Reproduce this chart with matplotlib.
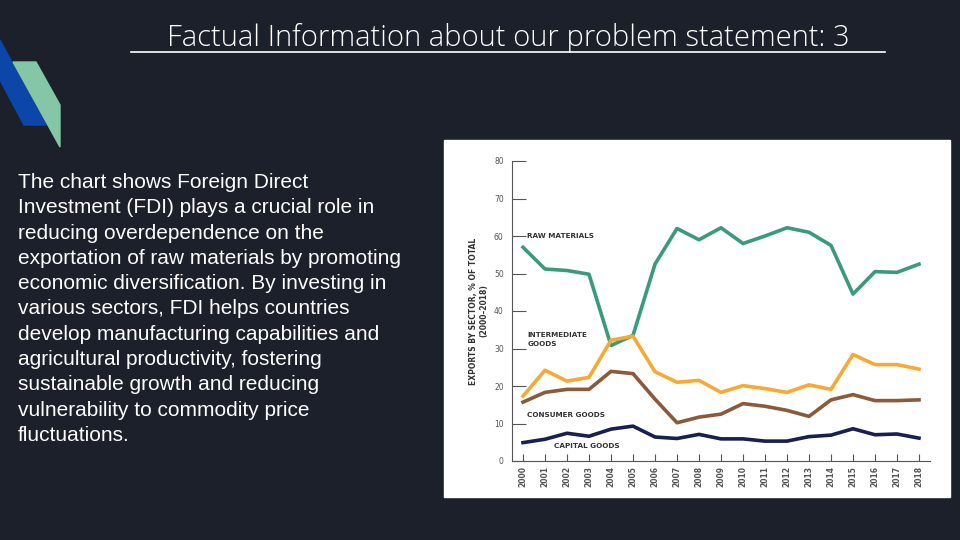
import matplotlib
matplotlib.use("Agg")
import matplotlib.pyplot as plt
from matplotlib.patches import Polygon, Rectangle
from matplotlib.lines import Line2D

years = list(range(2000, 2019))
raw = [57, 51.2, 50.8, 49.8, 30.8, 33.5, 52.5, 62, 59, 62.2, 58, 60, 62.2, 61, 57.5, 44.5, 50.5, 50.3, 52.5]
inter = [17.3, 24.2, 21.3, 22.3, 32.2, 33.3, 23.8, 21, 21.5, 18.3, 20.1, 19.3, 18.3, 20.3, 19.1, 28.4, 25.7, 25.7, 24.5]
consumer = [15.7, 18.3, 19.1, 19.1, 23.9, 23.3, 16.5, 10.2, 11.7, 12.5, 15.3, 14.6, 13.5, 11.9, 16.3, 17.7, 16.1, 16.1, 16.3]
capital = [4.9, 5.8, 7.4, 6.6, 8.5, 9.3, 6.4, 6.0, 7.1, 5.9, 5.9, 5.3, 5.3, 6.5, 6.9, 8.6, 7.0, 7.2, 6.1]

W, H = 960, 540
fig = plt.figure(figsize=(9.6, 5.4), dpi=100, facecolor="#1b202b")
bg = fig.add_axes([0, 0, 1, 1])
bg.set_xlim(0, W); bg.set_ylim(H, 0); bg.axis("off")
bg.add_patch(Polygon([(0, 40), (46, 125), (24, 125), (0, 80)], closed=True, color="#0b46a8"))
bg.add_patch(Polygon([(13, 62), (36, 62), (60, 105), (60, 147)], closed=True, color="#84c6a6"))
bg.add_patch(Rectangle((444, 140), 506, 357, color="white"))
bg.text(508, 38, "Factual Information about our problem statement: 3", color="white",
        fontsize=21, ha="center", va="center", family="Open Sans", fontweight="light")
bg.add_line(Line2D([131, 885], [52, 52], color="white", lw=1.2))
body = ("The chart shows Foreign Direct\nInvestment (FDI) plays a crucial role in\n"
        "reducing overdependence on the\nexportation of raw materials by promoting\n"
        "economic diversification. By investing in\nvarious sectors, FDI helps countries\n"
        "develop manufacturing capabilities and\nagricultural productivity, fostering\n"
        "sustainable growth and reducing\nvulnerability to commodity price\nfluctuations.")
bg.text(18, 173, body, color="white", fontsize=15, family="Liberation Sans",
        va="top", ha="left", linespacing=1.42)

ax = fig.add_axes([512/W, (H-461)/H, 418/W, 300/H])
ax.set_facecolor("white")
x = list(range(len(years)))
ax.plot(x, raw, color="#3a9b7a", lw=2.6)
ax.plot(x, inter, color="#f7a935", lw=2.6)
ax.plot(x, consumer, color="#8a5a3a", lw=2.6)
ax.plot(x, capital, color="#17204f", lw=2.6)
ax.set_xlim(-0.5, 18.5); ax.set_ylim(0, 80)
for s in ["top", "right"]:
    ax.spines[s].set_visible(False)
for s in ["left", "bottom"]:
    ax.spines[s].set_color("#555555"); ax.spines[s].set_linewidth(0.8)
ax.set_yticks(range(0, 81, 10))
ax.tick_params(axis="y", direction="in", length=10, labelsize=5.5, colors="#555555", pad=6)
ax.set_xticks(x)
ax.set_xticklabels([str(y) for y in years], rotation=90, fontsize=5.5, color="#555555", fontweight="bold")
ax.tick_params(axis="x", direction="in", length=5, colors="#555555")
ax.set_ylabel("EXPORTS BY SECTOR, % OF TOTAL\n(2000–2018)", fontsize=5.5, fontweight="bold", color="#333333", labelpad=4)
kw = dict(fontsize=5.2, fontweight="bold", color="#333333")
ax.text(0.2, 59.5, "RAW MATERIALS", **kw)
ax.text(0.2, 30.5, "INTERMEDIATE\nGOODS", va="bottom", linespacing=1.5, **kw)
ax.text(0.2, 11.8, "CONSUMER GOODS", **kw)
ax.text(1.4, 3.5, "CAPITAL GOODS", **kw)
fig.savefig("out.png", dpi=100, facecolor=fig.get_facecolor())
